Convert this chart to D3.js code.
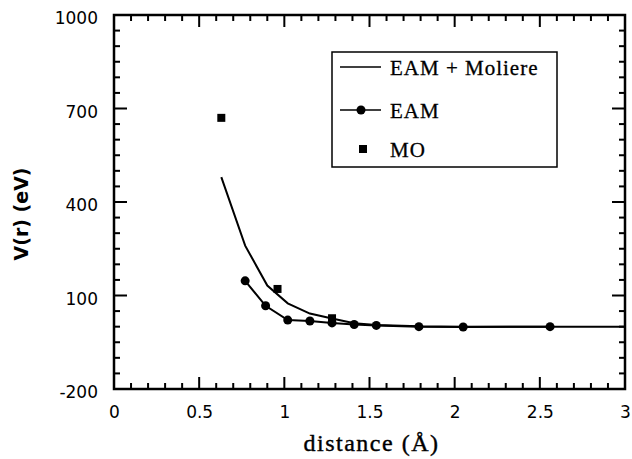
<!DOCTYPE html>
<html>
<head>
<meta charset="utf-8">
<script src="https://cdn.jsdelivr.net/npm/d3@7"></script>
<style>
  body { margin: 0; background: #fff; }
  svg { display: block; }
  .tick-label { font-family: "DejaVu Sans", sans-serif; font-size: 17px; fill: #000; }
  .legend text { font-family: "Liberation Serif", "Times New Roman", serif; font-size: 21px; letter-spacing: 1px; }
</style>
</head>
<body>
<div id="chart"></div>
<script>
const width = 632;
const height = 459;

// EAM + Moliere curve
const moliereX = [0.63, 0.77, 0.9, 1.02, 1.15, 1.28, 1.41, 1.54, 1.79, 2.05, 2.56, 3.0];
const moliereV = [480, 260, 132, 75, 42, 26, 11, 5, 1, 0, 0, 0];

// EAM points
const eamX = [0.77, 0.89, 1.02, 1.15, 1.28, 1.41, 1.54, 1.79, 2.05, 2.56];
const eamV = [147, 67, 21, 18, 12, 7, 4, 0, -1, 0];

// MO points
const moX = [0.63, 0.96, 1.28];
const moV = [670, 121, 27];

const xTicks = [0, 0.5, 1, 1.5, 2, 2.5, 3];
const xTickLabels = ["0", "0.5", "1", "1.5", "2", "2.5", "3"];
const yTicks = [-200, 100, 400, 700, 1000];
const yTickLabels = ["-200", "100", "400", "700", "1000"];

const legendLabels = ["EAM + Moliere", "EAM", "MO"];

const plotLeft = 114, plotRight = 625, plotTop = 15, plotBottom = 389;

const svg = d3.select("#chart").append("svg")
  .attr("width", width)
  .attr("height", height);

const x = d3.scaleLinear().domain([0, 3]).range([plotLeft, plotRight]);
const y = d3.scaleLinear().domain([-200, 1000]).range([plotBottom, plotTop]);

const xMinor = d3.range(0, 3.001, 0.1).filter(v => Math.abs(v * 2 - Math.round(v * 2)) > 1e-6);
const yMinor = d3.range(-200, 1001, 50).filter(v => (v + 200) % 300 !== 0);

// frame first, so nothing else gets hidden under it
svg.append("rect")
  .attr("x", plotLeft).attr("y", plotTop)
  .attr("width", plotRight - plotLeft).attr("height", plotBottom - plotTop)
  .style("fill", "none").attr("stroke", "#000").attr("stroke-width", 2.5);

// tick labels from d3 axes
svg.append("g").attr("transform", `translate(0,${plotBottom})`)
  .call(d3.axisBottom(x).tickValues(xTicks).tickSize(0).tickPadding(17)
    .tickFormat((d, i) => xTickLabels[i]))
  .call(g => g.select(".domain").remove())
  .call(g => g.selectAll("text").attr("class", "tick-label"));

svg.append("g").attr("transform", `translate(${plotLeft},0)`)
  .call(d3.axisLeft(y).tickValues(yTicks).tickSize(0).tickPadding(16)
    .tickFormat((d, i) => yTickLabels[i]))
  .call(g => g.select(".domain").remove())
  .call(g => g.selectAll("text").attr("class", "tick-label").attr("dy", "0.5em"));

// inward tick marks on all four sides
const tickG = svg.append("g").attr("fill", "#000");
const xTickMarks = xMinor.map(v => [v, 6]).concat(xTicks.map(v => [v, 12]));
const yTickMarks = yMinor.map(v => [v, 6]).concat(yTicks.map(v => [v, 13]));

tickG.selectAll(".xb").data(xTickMarks).enter().append("rect")
  .attr("x", d => x(d[0]) - 1).attr("width", 2)
  .attr("y", d => plotBottom - d[1]).attr("height", d => d[1]);
tickG.selectAll(".xt").data(xTickMarks).enter().append("rect")
  .attr("x", d => x(d[0]) - 1).attr("width", 2)
  .attr("y", plotTop).attr("height", d => d[1]);
tickG.selectAll(".yl").data(yTickMarks).enter().append("rect")
  .attr("y", d => y(d[0]) - 1).attr("height", 2)
  .attr("x", plotLeft).attr("width", d => d[1]);
tickG.selectAll(".yr").data(yTickMarks).enter().append("rect")
  .attr("y", d => y(d[0]) - 1).attr("height", 2)
  .attr("x", d => plotRight - d[1]).attr("width", d => d[1]);

// axis titles
svg.append("text")
  .attr("transform", `translate(28,${(plotTop + plotBottom) / 2 + 12}) rotate(-90)`)
  .attr("text-anchor", "middle")
  .style("font-family", "'DejaVu Sans', sans-serif")
  .style("font-weight", "bold")
  .style("font-size", "19px")
  .text("V(r) (eV)");

svg.append("text")
  .attr("x", (plotLeft + plotRight) / 2 + 2)
  .attr("y", 451)
  .attr("text-anchor", "middle")
  .style("font-family", "'Liberation Serif', serif")
  .style("font-size", "24px")
  .style("letter-spacing", "1.5px")
  .style("stroke", "#000")
  .style("stroke-width", 0.4)
  .text("distance (Å)");

// lines
const line = d3.line().x(d => x(d[0])).y(d => y(d[1]));

const moliereData = moliereX.map((d, i) => [d, moliereV[i]]);
const eamData = eamX.map((d, i) => [d, eamV[i]]);
const moData = moX.map((d, i) => [d, moV[i]]);

svg.append("path")
  .datum(moliereData)
  .attr("d", line)
  .attr("fill", "none")
  .attr("stroke", "#000")
  .attr("stroke-width", 2);

svg.append("path")
  .datum(eamData)
  .attr("d", line)
  .attr("fill", "none")
  .attr("stroke", "#000")
  .attr("stroke-width", 2);

svg.selectAll(".eam-dot")
  .data(eamData)
  .enter().append("circle")
  .attr("class", "eam-dot")
  .attr("cx", d => x(d[0]))
  .attr("cy", d => y(d[1]))
  .attr("r", 4.5)
  .attr("fill", "#000");

svg.selectAll(".mo-sq")
  .data(moData)
  .enter().append("rect")
  .attr("class", "mo-sq")
  .attr("x", d => x(d[0]) - 4)
  .attr("y", d => y(d[1]) - 4)
  .attr("width", 8)
  .attr("height", 8)
  .attr("fill", "#000");

// legend
const legend = svg.append("g").attr("class", "legend");
legend.append("rect")
  .attr("x", 332).attr("y", 52)
  .attr("width", 225).attr("height", 115)
  .attr("fill", "#fff").attr("stroke", "#000").attr("stroke-width", 1.5);

const rowY = [67, 110, 149];
legend.append("line")
  .attr("x1", 340).attr("x2", 381).attr("y1", rowY[0]).attr("y2", rowY[0])
  .attr("stroke", "#000").attr("stroke-width", 1.5);
legend.append("line")
  .attr("x1", 340).attr("x2", 381).attr("y1", rowY[1]).attr("y2", rowY[1])
  .attr("stroke", "#000").attr("stroke-width", 1.5);
legend.append("circle")
  .attr("cx", 361).attr("cy", rowY[1]).attr("r", 4.5).attr("fill", "#000");
legend.append("rect")
  .attr("x", 359).attr("y", rowY[2] - 4).attr("width", 8).attr("height", 8).attr("fill", "#000");

legend.selectAll("text.lab")
  .data(legendLabels)
  .enter().append("text")
  .attr("class", "lab")
  .attr("x", 390)
  .attr("y", (d, i) => rowY[i] + 8)
  .style("stroke", "#000")
  .style("stroke-width", 0.3)
  .text(d => d);
</script>
</body>
</html>
